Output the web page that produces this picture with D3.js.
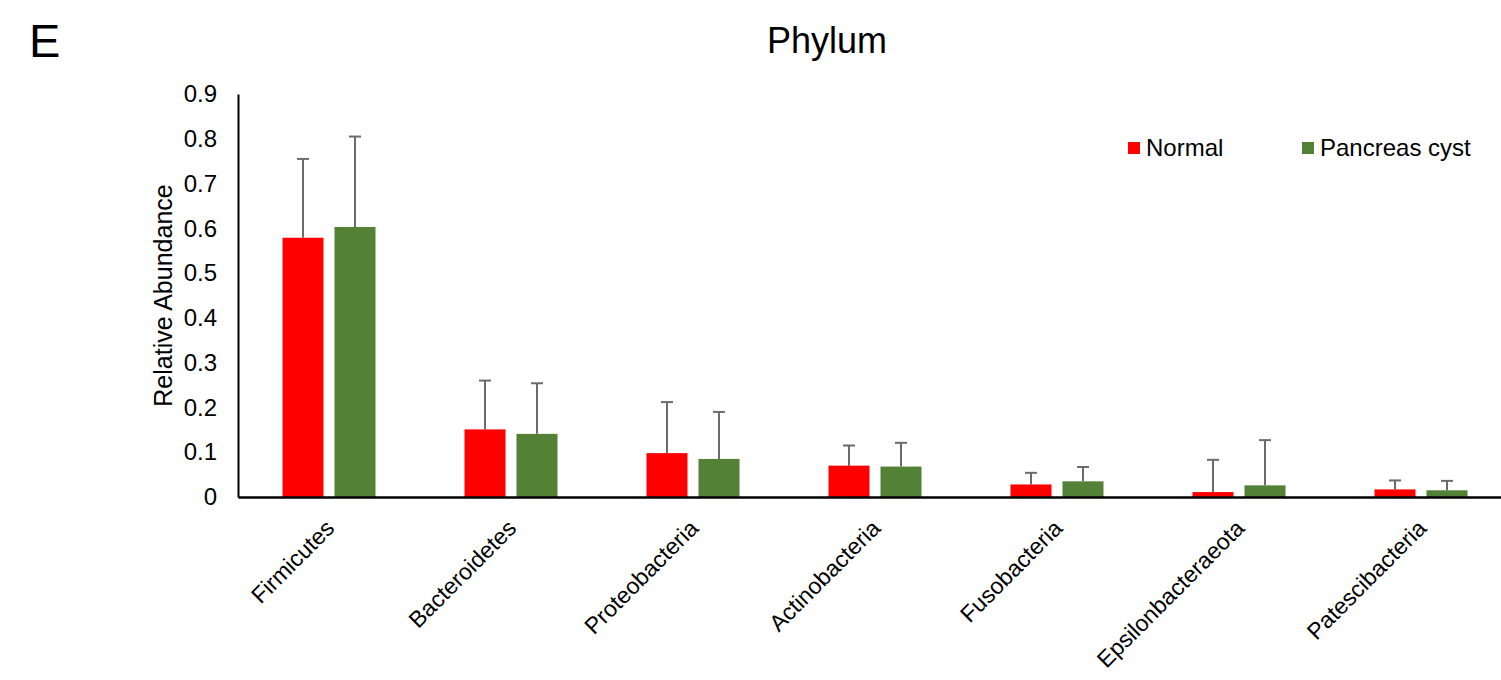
<!DOCTYPE html>
<html><head><meta charset="utf-8">
<script src="https://cdn.jsdelivr.net/npm/d3@7"></script>
<style>body{margin:0;background:#fff}svg{display:block;font-family:"Liberation Sans",Arial,sans-serif}</style>
</head><body><svg id="c" width="1501" height="680"></svg>
<script>
const categories = ["Firmicutes","Bacteroidetes","Proteobacteria","Actinobacteria","Fusobacteria","Epsilonbacteraeota","Patescibacteria"];
const seriesNames = ["Normal","Pancreas cyst"];
const normalMean = [0.579,0.151,0.098,0.070,0.028,0.011,0.017];
const normalErr  = [0.176,0.109,0.114,0.045,0.026,0.072,0.020];
const cystMean   = [0.603,0.141,0.085,0.068,0.035,0.026,0.015];
const cystErr    = [0.202,0.113,0.105,0.053,0.032,0.101,0.021];
const yTicks = [0,0.1,0.2,0.3,0.4,0.5,0.6,0.7,0.8,0.9];
const colors = ["#FF0000","#538135"];

const svg = d3.select("#c");
const x0 = 238, x1 = 1512, yTop = 94, yBot = 497;
const x = d3.scaleBand().domain(categories).range([x0,x1]);
const y = d3.scaleLinear().domain([0,0.9]).range([yBot,yTop]);
const barW = 41, gap = 11;

const data = [];
categories.forEach((c,i)=>{
  data.push({c, s:0, v:normalMean[i], e:normalErr[i]});
  data.push({c, s:1, v:cystMean[i], e:cystErr[i]});
});
const bx = d => x(d.c) + x.bandwidth()/2 + (d.s===0 ? -(gap/2+barW) : gap/2);

svg.append("g").selectAll("rect").data(data).join("rect")
  .attr("x", bx).attr("width", barW)
  .attr("y", d=>y(d.v)).attr("height", d=>y(0)-y(d.v))
  .attr("fill", d=>colors[d.s]);

const eb = svg.append("g").attr("stroke","#6b6b6b").attr("stroke-width",2);
data.forEach(d=>{
  const cx = bx(d)+barW/2;
  eb.append("line").attr("x1",cx).attr("x2",cx).attr("y1",y(d.v)).attr("y2",y(d.v+d.e));
  eb.append("line").attr("x1",cx-6).attr("x2",cx+6).attr("y1",y(d.v+d.e)).attr("y2",y(d.v+d.e));
});

// axes
const yAxis = d3.axisLeft(y).tickValues(yTicks).tickSize(0).tickPadding(21).tickFormat(d=>d===0?"0":d3.format(".1f")(d));
const gy = svg.append("g").attr("transform",`translate(${x0},0)`).call(yAxis);
gy.select(".domain").attr("stroke","#000").attr("stroke-width",2);
gy.selectAll("text").attr("font-size",24).attr("fill","#000").attr("font-family","Liberation Sans, Arial, sans-serif");

const xAxis = d3.axisBottom(x).tickSize(0).tickFormat("");
const gx = svg.append("g").attr("transform",`translate(0,${yBot})`).call(xAxis);
gx.select(".domain").attr("stroke","#000").attr("stroke-width",2.5);

svg.append("g").selectAll("text").data(categories).join("text")
  .attr("transform", d=>`translate(${x(d)+x.bandwidth()/2+1},${yBot+27}) rotate(-45)`)
  .attr("text-anchor","end").attr("dy","0.35em")
  .attr("font-size",23).attr("fill","#000").text(d=>d);

svg.append("text").attr("transform",`translate(172,${(yTop+yBot)/2}) rotate(-90)`)
  .attr("text-anchor","middle").attr("font-size",25).attr("fill","#000").text("Relative Abundance");

svg.append("text").attr("x",827).attr("y",53).attr("text-anchor","middle").attr("font-size",36).attr("fill","#000").text("Phylum");
svg.append("text").attr("x",29).attr("y",57).attr("font-size",47).attr("fill","#000").text("E");

// legend
const legX = [1128,1302];
seriesNames.forEach((n,i)=>{
  svg.append("rect").attr("x",legX[i]).attr("y",142).attr("width",12).attr("height",12).attr("fill",colors[i]);
  svg.append("text").attr("x",legX[i]+18).attr("y",156).attr("font-size",24).attr("fill","#000").text(n);
});
</script></body></html>
